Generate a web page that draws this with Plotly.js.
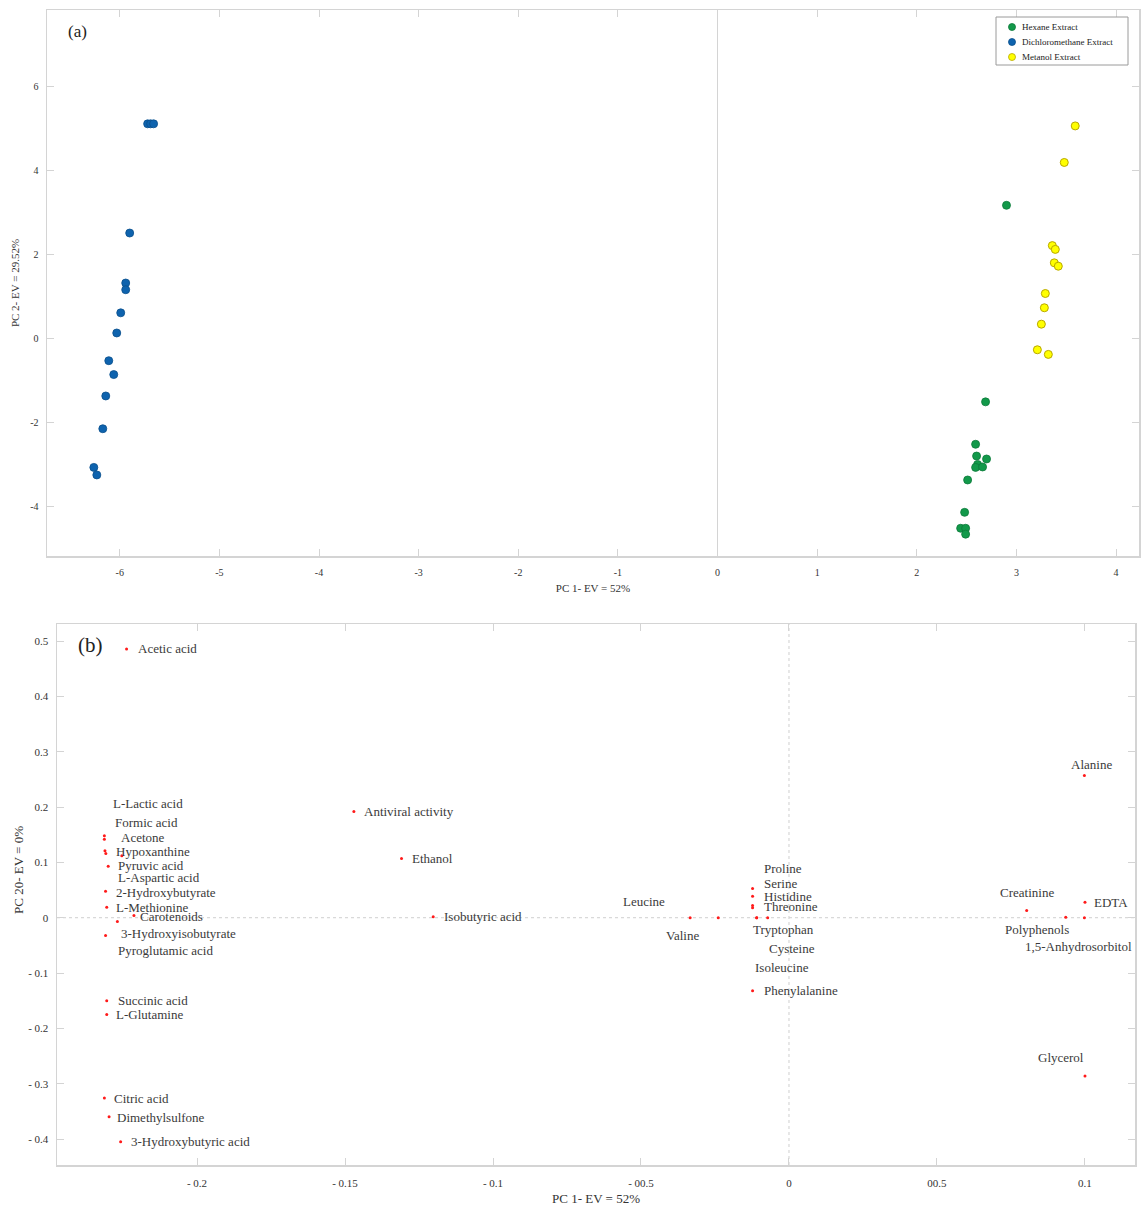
<!DOCTYPE html>
<html>
<head>
<meta charset="utf-8">
<script src="https://cdn.plot.ly/plotly-3.0.1.min.js"></script>
<style>
html,body{margin:0;padding:0;background:#fff;}
#chart{width:1141px;height:1207px;}
</style>
</head>
<body>
<div id="chart"></div>
<script>
// ---------- Panel (a): PCA scores ----------
const hexaneX = [2.90, 2.69, 2.59, 2.60, 2.70, 2.61, 2.59, 2.66, 2.51, 2.48, 2.44, 2.49, 2.49];
const hexaneY = [3.16, -1.52, -2.53, -2.81, -2.88, -3.01, -3.08, -3.07, -3.38, -4.15, -4.53, -4.53, -4.67];
const dcmX = [-5.72, -5.69, -5.66, -5.90, -5.94, -5.94, -5.99, -6.03, -6.11, -6.06, -6.14, -6.17, -6.26, -6.23];
const dcmY = [5.10, 5.10, 5.10, 2.50, 1.31, 1.15, 0.60, 0.12, -0.54, -0.87, -1.38, -2.16, -3.08, -3.26];
const metanolX = [3.59, 3.48, 3.36, 3.39, 3.38, 3.42, 3.29, 3.28, 3.25, 3.21, 3.32];
const metanolY = [5.05, 4.18, 2.20, 2.11, 1.79, 1.71, 1.06, 0.72, 0.33, -0.28, -0.39];
const seriesNames = ["Hexane Extract", "Dichloromethane Extract", "Metanol Extract"];
const aXTickVals = [-6, -5, -4, -3, -2, -1, 0, 1, 2, 3, 4];
const aXTickText = ["-6", "-5", "-4", "-3", "-2", "-1", "0", "1", "2", "3", "4"];
const aYTickVals = [6, 4, 2, 0, -2, -4];
const aYTickText = ["6", "4", "2", "0", "-2", "-4"];

// ---------- Panel (b): PCA loadings ----------
const variables = ["Acetic acid", "L-Lactic acid", "Formic acid", "Acetone", "Hypoxanthine", "Pyruvic acid",
  "L-Aspartic acid", "2-Hydroxybutyrate", "L-Methionine", "Carotenoids", "3-Hydroxyisobutyrate",
  "Pyroglutamic acid", "Succinic acid", "L-Glutamine", "Citric acid", "Dimethylsulfone",
  "3-Hydroxybutyric acid", "Antiviral activity", "Ethanol", "Isobutyric acid", "Leucine", "Valine",
  "Proline", "Serine", "Histidine", "Threonine", "Tryptophan", "Cysteine", "Isoleucine", "Phenylalanine",
  "Alanine", "EDTA", "Creatinine", "Polyphenols", "1,5-Anhydrosorbitol", "Glycerol"];
const loadPC1 = [-0.2238, -0.2313, -0.2313, -0.2311, -0.2308, -0.2300, -0.2254, -0.2309, -0.2305, -0.2213,
  -0.2309, -0.2269, -0.2305, -0.2305, -0.2313, -0.2297, -0.2258, -0.1470, -0.1309, -0.1202, -0.0334,
  -0.0239, -0.0123, -0.0123, -0.0123, -0.0123, -0.0109, -0.0072, -0.0109, -0.0123, 0.0998, 0.1000,
  0.0803, 0.0935, 0.0998, 0.1000];
const loadPC20 = [0.486, 0.148, 0.142, 0.121, 0.116, 0.093, 0.112, 0.048, 0.019, 0.004, -0.032, -0.007,
  -0.150, -0.175, -0.326, -0.360, -0.405, 0.192, 0.107, 0.002, 0.000, 0.000, 0.053, 0.039, 0.022, 0.018,
  0.000, 0.000, 0.000, -0.132, 0.257, 0.028, 0.013, 0.001, 0.000, -0.286];
const bXTickVals = [-0.2, -0.15, -0.1, -0.05, 0, 0.05, 0.1];
const bXTickText = ["- 0.2", "- 0.15", "- 0.1", "- 00.5", "0", "00.5", "0.1"];
const bYTickVals = [0.5, 0.4, 0.3, 0.2, 0.1, 0, -0.1, -0.2, -0.3, -0.4];
const bYTickText = ["0.5", "0.4", "0.3", "0.2", "0.1", "0", "- 0.1", "- 0.2", "- 0.3", "- 0.4"];

// label placement (pixels, relative to each point) - layout only
const labelShift = [[9,0],[7,32],[9,17],[14,13],[8,2],[8,1],[-6,-22],[8,-1],[7,0],[4,-1],[13,2],[-1,-29],
  [9,0],[7,0],[8,0],[6,-1],[8,0],[8,0],[8,0],[9,0],[-23,16],[-54,-18],[9,20],[9,13],[9,9],[9,1],
  [-6,-12],[-1,-31],[-4,-50],[9,0],[7,11],[7,0],[0,18],[-29,-12],[-6,-29],[-24,18]];
const labelAnchor = variables.map(function(v){
  if (v === "Leucine") return "right";
  if (["Alanine","Creatinine","Polyphenols","1,5-Anhydrosorbitol","Glycerol"].indexOf(v) >= 0) return "center";
  return "left";
});

const W = 1141, H = 1207;
const serif = "Liberation Serif, Times New Roman, serif";
const axisGray = "#d4d4d4";
const seriesColors = ["#12994a", "#0e63ae", "#ffff00"];
const seriesLines = ["#0d7a3a", "#0a4f8c", "#b9a800"];

function px(x){ return x / W; }
function py(y){ return 1 - y / H; }

const traces = [
  { x: hexaneX, y: hexaneY, name: seriesNames[0], type: "scatter", mode: "markers", xaxis: "x", yaxis: "y",
    marker: { size: 8, color: seriesColors[0], line: { color: seriesLines[0], width: 0.8 } } },
  { x: dcmX, y: dcmY, name: seriesNames[1], type: "scatter", mode: "markers", xaxis: "x", yaxis: "y",
    marker: { size: 8, color: seriesColors[1], line: { color: seriesLines[1], width: 0.8 } } },
  { x: metanolX, y: metanolY, name: seriesNames[2], type: "scatter", mode: "markers", xaxis: "x", yaxis: "y",
    marker: { size: 8, color: seriesColors[2], line: { color: seriesLines[2], width: 1 } } },
  { x: loadPC1, y: loadPC20, text: variables, type: "scatter", mode: "markers", xaxis: "x2", yaxis: "y2",
    showlegend: false, hoverinfo: "text",
    marker: { size: 3, color: "#ff1a1a" } }
];

const annotations = [
  { text: "(a)", xref: "paper", yref: "paper", x: px(66), y: py(32), xanchor: "left", yanchor: "middle",
    showarrow: false, font: { family: serif, size: 17, color: "#222" } },
  { text: "(b)", xref: "paper", yref: "paper", x: px(76), y: py(645), xanchor: "left", yanchor: "middle",
    showarrow: false, font: { family: serif, size: 21, color: "#222" } },
  { text: "PC 20- EV = 0%", xref: "paper", yref: "paper", x: px(18), y: py(870), textangle: -90,
    xanchor: "center", yanchor: "middle", showarrow: false, font: { family: serif, size: 13, color: "#333" } }
];
variables.forEach(function(v, i){
  annotations.push({ text: v, x: loadPC1[i], y: loadPC20[i], xref: "x2", yref: "y2", showarrow: false,
    xanchor: labelAnchor[i], yanchor: "middle", xshift: labelShift[i][0], yshift: labelShift[i][1],
    font: { family: serif, size: 13, color: "#3a3a3a" } });
});

const shapes = [
  { type: "line", xref: "x2", yref: "y2 domain", x0: 0, x1: 0, y0: 0, y1: 1,
    line: { color: "#cfcfcf", width: 1, dash: "dot" }, layer: "below" },
  { type: "line", xref: "x2 domain", yref: "y2", x0: 0, x1: 1, y0: 0, y1: 0,
    line: { color: "#cfcfcf", width: 1, dash: "dot" }, layer: "below" },
  // legend box
  { type: "rect", xref: "paper", yref: "paper", x0: px(996), x1: px(1128), y0: py(65), y1: py(17),
    line: { color: "#9a9a9a", width: 1 }, fillcolor: "#fff", layer: "above" }
];
// legend entries (custom, compact like the reference)
seriesNames.forEach(function(n, i){
  const cy = 27 + i * 15;
  shapes.push({ type: "circle", xref: "paper", yref: "paper",
    x0: px(1008.5), x1: px(1015.5), y0: py(cy + 3.5), y1: py(cy - 3.5),
    fillcolor: seriesColors[i], line: { color: seriesLines[i], width: 0.8 }, layer: "above" });
  annotations.push({ text: n, xref: "paper", yref: "paper", x: px(1020), y: py(cy), xanchor: "left",
    yanchor: "middle", showarrow: false, font: { family: serif, size: 9, color: "#222" } });
});

function axisBase(extra){
  return Object.assign({
    showgrid: false, showline: true, linecolor: axisGray, linewidth: 1.5, mirror: "ticks",
    ticks: "inside", ticklen: 7, tickcolor: axisGray, tickwidth: 1, automargin: false,
    tickfont: { family: serif, size: 10, color: "#333" }, fixedrange: true
  }, extra);
}

const layout = {
  width: W, height: H,
  margin: { l: 0, r: 0, t: 0, b: 0 },
  paper_bgcolor: "#fff", plot_bgcolor: "#fff",
  showlegend: false,
  xaxis: axisBase({
    domain: [px(47), px(1139)], anchor: "y", range: [-6.73, 4.23],
    tickvals: aXTickVals, ticktext: aXTickText, ticklabelstandoff: 6,
    zeroline: true, zerolinecolor: axisGray, zerolinewidth: 1,
    title: { text: "PC 1- EV = 52%", font: { family: serif, size: 11, color: "#333" }, standoff: 8 }
  }),
  yaxis: axisBase({
    domain: [py(556), py(10)], anchor: "x", range: [-5.19, 7.81],
    tickvals: aYTickVals, ticktext: aYTickText, ticklabelstandoff: 5, zeroline: false,
    title: { text: "PC 2- EV = 29.52%", font: { family: serif, size: 11, color: "#333" }, standoff: 8 }
  }),
  xaxis2: axisBase({
    domain: [px(57), px(1135)], anchor: "y2", range: [-0.2473, 0.1169],
    tickvals: bXTickVals, ticktext: bXTickText, ticklabelstandoff: 7, zeroline: false,
    tickfont: { family: serif, size: 11, color: "#333" },
    title: { text: "PC 1- EV = 52%", font: { family: serif, size: 13, color: "#333" }, standoff: 6 }
  }),
  yaxis2: axisBase({
    domain: [py(1165), py(624)], anchor: "x2", range: [-0.447, 0.531],
    tickvals: bYTickVals, ticktext: bYTickText, ticklabelstandoff: 5, zeroline: false,
    tickfont: { family: serif, size: 11, color: "#333" }
  }),
  annotations: annotations,
  shapes: shapes
};

Plotly.newPlot("chart", traces, layout, { displayModeBar: false, staticPlot: true });
</script>
</body>
</html>
